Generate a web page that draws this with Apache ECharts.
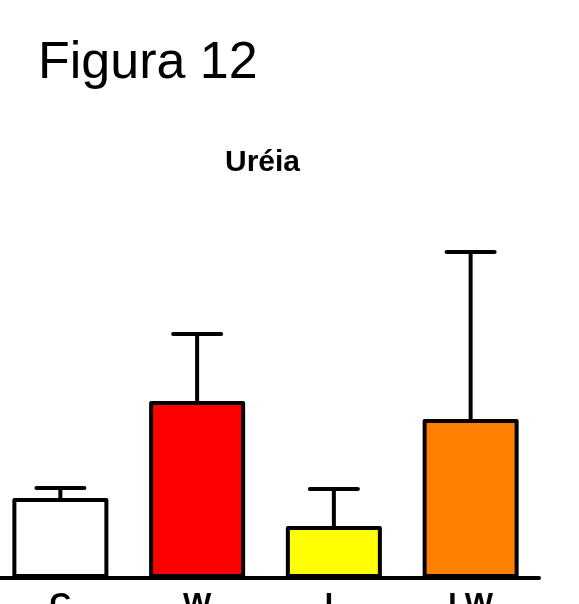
<!DOCTYPE html>
<html>
<head>
<meta charset="utf-8">
<script src="https://cdn.jsdelivr.net/npm/echarts@6/dist/echarts.min.js"></script>
<style>
  html, body { margin: 0; padding: 0; background: #ffffff; }
  #chart { width: 579px; height: 604px; }
</style>
</head>
<body>
<div id="chart"></div>
<script>
// Urea by group: mean and upper error (SEM)
const categories = ['C', 'W', 'L', 'LW'];
const means = [40, 88.5, 26, 79.5];
const errors = [5, 33.5, 18.5, 83.5];
const barColors = ['#ffffff', '#ff0000', '#ffff00', '#ff8000'];

const chart = echarts.init(document.getElementById('chart'), null, { renderer: 'canvas' });

const barData = means.map((v, i) => ({
  value: v,
  itemStyle: { color: barColors[i] }
}));
const errData = means.map((v, i) => [i, v, errors[i]]);

const FONT = 'Liberation Sans, Arial, Helvetica, sans-serif';

chart.setOption({
  backgroundColor: '#ffffff',
  animation: false,
  title: [
    {
      text: 'Figura 12',
      left: 33,
      top: 33,
      textStyle: { fontFamily: FONT, fontSize: 52, fontWeight: 'normal', color: '#000000' }
    },
    {
      text: 'Uréia',
      left: 220,
      top: 143,
      textStyle: { fontFamily: FONT, fontSize: 30, fontWeight: 'bold', color: '#000000' }
    }
  ],
  grid: { left: -8, right: 40, top: 178, bottom: 26, containLabel: false, outerBoundsMode: 'none' },
  xAxis: {
    type: 'category',
    data: categories,
    axisLine: { lineStyle: { color: '#000000', width: 4 } },
    axisTick: { alignWithLabel: true, length: 10, lineStyle: { color: '#000000', width: 3.5 } },
    axisLabel: { margin: 12, fontFamily: FONT, fontSize: 30, fontWeight: 'bold', color: '#000000' }
  },
  yAxis: {
    type: 'value',
    min: 0,
    max: 200,
    show: false
  },
  series: [
    {
      type: 'bar',
      data: barData,
      barWidth: 96,
      itemStyle: { borderColor: '#000000', borderWidth: 4, borderJoin: 'round' },
      z: 2
    },
    {
      type: 'custom',
      data: errData,
      z: 3,
      renderItem: function (params, api) {
        const idx = api.value(0);
        const base = api.coord([idx, api.value(1)]);
        const top = api.coord([idx, api.value(1) + api.value(2)]);
        const half = 24;
        const style = { stroke: '#000000', lineWidth: 4, lineCap: 'round' };
        return {
          type: 'group',
          children: [
            { type: 'line', shape: { x1: base[0], y1: base[1], x2: top[0], y2: top[1] }, style: style },
            { type: 'line', shape: { x1: top[0] - half, y1: top[1], x2: top[0] + half, y2: top[1] }, style: style }
          ]
        };
      }
    }
  ]
});
</script>
</body>
</html>
